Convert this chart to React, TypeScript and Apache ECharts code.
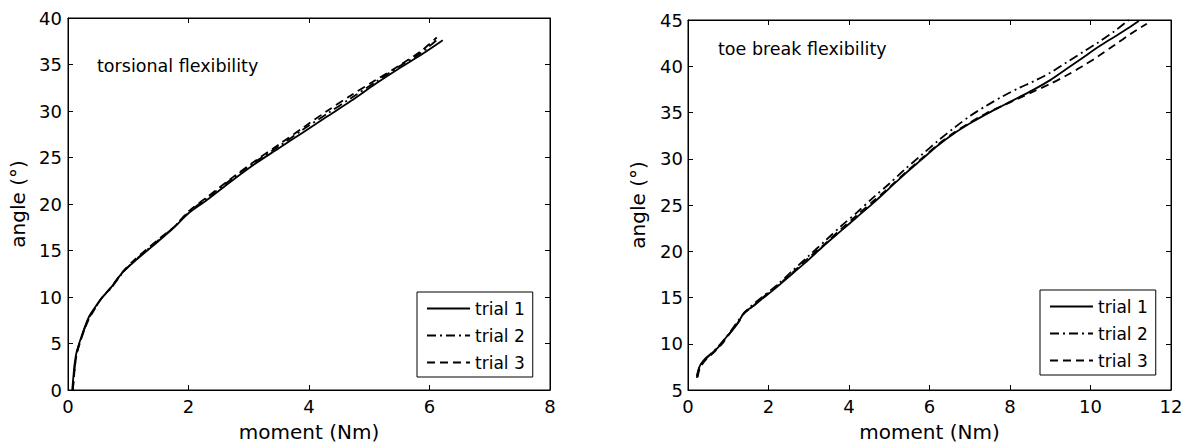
import { useEffect, useRef } from "react";
import * as echarts from "echarts";

const trialNames = ["trial 1", "trial 2", "trial 3"];

// torsional flexibility (left panel)
const torsionMoment1 = [0.07, 0.09, 0.11, 0.14, 0.2, 0.27, 0.35, 0.45, 0.55, 0.7, 0.9, 1.1, 1.3, 1.5, 1.75, 2.0, 2.3, 2.7, 3.1, 3.5, 3.9, 4.3, 4.7, 5.1, 5.5, 5.9, 6.22];
const torsionAngle1 = [0, 1.5, 2.8, 4.0, 5.3, 6.6, 7.9, 8.9, 9.8, 10.9, 12.6, 13.8, 14.9, 16.0, 17.4, 19.0, 20.4, 22.4, 24.3, 26.0, 27.7, 29.4, 31.1, 32.9, 34.6, 36.2, 37.6];
const torsionMoment2 = [0.08, 0.1, 0.12, 0.15, 0.21, 0.28, 0.36, 0.46, 0.56, 0.72, 0.92, 1.12, 1.32, 1.52, 1.77, 2.0, 2.3, 2.7, 3.1, 3.5, 3.9, 4.3, 4.7, 5.1, 5.5, 5.85, 6.15];
const torsionAngle2 = [0, 1.6, 2.9, 4.1, 5.4, 6.7, 7.9, 8.9, 9.9, 11.0, 12.7, 14.0, 15.1, 16.2, 17.6, 19.1, 20.6, 22.6, 24.5, 26.2, 28.0, 29.7, 31.4, 33.1, 34.8, 36.2, 37.8];
const torsionMoment3 = [0.08, 0.1, 0.12, 0.15, 0.21, 0.28, 0.36, 0.46, 0.56, 0.72, 0.92, 1.12, 1.32, 1.52, 1.77, 2.0, 2.3, 2.7, 3.1, 3.5, 3.9, 4.3, 4.7, 5.1, 5.5, 5.85, 6.12];
const torsionAngle3 = [0, 1.5, 2.8, 4.0, 5.3, 6.6, 7.8, 8.9, 9.9, 11.1, 12.8, 14.1, 15.2, 16.3, 17.6, 19.2, 20.7, 22.7, 24.6, 26.4, 28.2, 30.0, 31.7, 33.3, 34.9, 36.4, 37.9];

// toe break flexibility (right panel)
const toeMoment1 = [0.22, 0.26, 0.32, 0.45, 0.6, 0.75, 0.95, 1.15, 1.3, 1.4, 1.6, 1.8, 2.2, 2.6, 3.0, 3.4, 3.8, 4.2, 4.6, 5.0, 5.4, 5.8, 6.2, 6.6, 7.0, 7.4, 7.8, 8.2, 8.6, 9.0, 9.4, 9.8, 10.2, 10.6, 11.0, 11.2];
const toeAngle1 = [6.3, 7.2, 7.8, 8.5, 9.0, 9.6, 10.7, 11.7, 12.7, 13.4, 14.0, 14.7, 16.1, 17.6, 19.1, 20.7, 22.2, 23.7, 25.2, 26.8, 28.4, 29.9, 31.4, 32.7, 33.8, 34.8, 35.7, 36.6, 37.5, 38.5, 39.7, 40.9, 42.1, 43.2, 44.3, 44.9];
const toeMoment2 = [0.22, 0.3, 0.5, 0.75, 1.0, 1.3, 1.5, 1.8, 2.2, 2.6, 3.0, 3.4, 3.8, 4.2, 4.6, 5.0, 5.4, 5.8, 6.2, 6.6, 7.0, 7.4, 7.8, 8.2, 8.6, 9.0, 9.4, 9.8, 10.2, 10.6, 10.95];
const toeAngle2 = [6.5, 7.6, 8.6, 9.7, 11.0, 12.8, 13.8, 14.9, 16.3, 17.9, 19.5, 21.1, 22.7, 24.2, 25.8, 27.3, 28.9, 30.4, 31.9, 33.3, 34.6, 35.7, 36.7, 37.6, 38.4, 39.3, 40.4, 41.5, 42.6, 43.8, 45.0];
const toeMoment3 = [0.24, 0.3, 0.45, 0.65, 0.85, 1.05, 1.25, 1.4, 1.6, 1.8, 2.2, 2.6, 3.0, 3.4, 3.8, 4.2, 4.6, 5.0, 5.4, 5.8, 6.2, 6.6, 7.0, 7.4, 7.8, 8.2, 8.6, 9.0, 9.4, 9.8, 10.2, 10.6, 11.0, 11.4];
const toeAngle3 = [6.4, 7.4, 8.3, 9.1, 10.0, 11.2, 12.3, 13.3, 14.0, 14.8, 16.2, 17.7, 19.3, 20.8, 22.4, 23.9, 25.4, 26.9, 28.5, 30.0, 31.5, 32.8, 33.9, 34.9, 35.7, 36.5, 37.3, 38.1, 39.0, 40.0, 41.1, 42.3, 43.5, 44.6];

const torsionXTicks = { min: 0, max: 8, interval: 2 };
const torsionYTicks = { min: 0, max: 40, interval: 5 };
const toeXTicks = { min: 0, max: 12, interval: 2 };
const toeYTicks = { min: 5, max: 45, interval: 5 };

const FONT = "DejaVu Sans";
const AXIS_COLOR = "#000";
const TICK_LEN = 5;
const dashTypes: any[] = ["solid", [9, 4, 2, 4], [8, 5]];

function zip(xs: number[], ys: number[]) {
  return xs.map((x, i) => [x, ys[i]]);
}

type PanelProps = {
  width: number;
  grid: { left: number; top: number; width: number; height: number };
  xt: { min: number; max: number; interval: number };
  yt: { min: number; max: number; interval: number };
  yLabelMargin: number;
  data: number[][][];
  note: string;
  noteLeft: number;
  noteTop: number;
  legendLeft: number;
  legendTop: number;
};

function Panel(p: PanelProps) {
  const ref = useRef<HTMLDivElement>(null);

  useEffect(() => {
    const chart = echarts.init(ref.current!, undefined, { renderer: "svg" });
    chart.setOption({
      animation: false,
      grid: {
        left: p.grid.left,
        top: p.grid.top,
        width: p.grid.width,
        height: p.grid.height,
        show: true,
        borderColor: AXIS_COLOR,
        borderWidth: 1,
        backgroundColor: "rgba(0,0,0,0)",
      },
      xAxis: [
        {
          type: "value",
          gridIndex: 0,
          min: p.xt.min,
          max: p.xt.max,
          interval: p.xt.interval,
          position: "bottom",
          name: "moment (Nm)",
          nameLocation: "middle",
          nameGap: 32,
          nameTextStyle: { fontFamily: FONT, fontSize: 20, color: "#000" },
          axisLine: { show: true, lineStyle: { color: AXIS_COLOR } },
          axisTick: { show: true, inside: true, length: TICK_LEN, lineStyle: { color: AXIS_COLOR } },
          axisLabel: { fontFamily: FONT, fontSize: 18, color: "#000", margin: 7 },
          splitLine: { show: false },
        },
        {
          type: "value",
          gridIndex: 0,
          min: p.xt.min,
          max: p.xt.max,
          interval: p.xt.interval,
          position: "top",
          axisLine: { show: true, onZero: false, lineStyle: { color: AXIS_COLOR } },
          axisTick: { show: true, inside: true, length: TICK_LEN, lineStyle: { color: AXIS_COLOR } },
          axisLabel: { show: false },
          splitLine: { show: false },
        },
      ],
      yAxis: [
        {
          type: "value",
          gridIndex: 0,
          min: p.yt.min,
          max: p.yt.max,
          interval: p.yt.interval,
          position: "left",
          name: "angle (°)",
          nameLocation: "middle",
          nameGap: 40,
          nameRotate: 90,
          nameTextStyle: { fontFamily: FONT, fontSize: 20, color: "#000" },
          axisLine: { show: true, lineStyle: { color: AXIS_COLOR } },
          axisTick: { show: true, inside: true, length: TICK_LEN, lineStyle: { color: AXIS_COLOR } },
          axisLabel: { fontFamily: FONT, fontSize: 18, color: "#000", margin: p.yLabelMargin },
          splitLine: { show: false },
        },
        {
          type: "value",
          gridIndex: 0,
          min: p.yt.min,
          max: p.yt.max,
          interval: p.yt.interval,
          position: "right",
          axisLine: { show: true, onZero: false, lineStyle: { color: AXIS_COLOR } },
          axisTick: { show: true, inside: true, length: TICK_LEN, lineStyle: { color: AXIS_COLOR } },
          axisLabel: { show: false },
          splitLine: { show: false },
        },
      ],
      legend: {
        orient: "vertical",
        left: p.legendLeft,
        top: p.legendTop,
        data: trialNames,
        itemWidth: 43,
        itemHeight: 14,
        itemGap: 10,
        padding: [8, 8, 6, 9],
        borderColor: AXIS_COLOR,
        borderWidth: 1,
        selectedMode: false,
        itemStyle: { opacity: 0 },
        textStyle: { fontFamily: FONT, fontSize: 17, color: "#000" },
      },
      graphic: [
        {
          type: "text",
          left: p.noteLeft,
          top: p.noteTop,
          style: { text: p.note, font: `17.5px "${FONT}"`, fill: "#000" },
        },
      ],
      series: p.data.map((d, i) => ({
        type: "line",
        name: trialNames[i],
        xAxisIndex: 0,
        yAxisIndex: 0,
        data: d,
        showSymbol: false,
        symbol: "none",
        smooth: 0.3,
        lineStyle: { color: "#000", width: 1.8, type: dashTypes[i] },
        itemStyle: { color: "#000" },
      })),
    });
    return () => chart.dispose();
  }, []);

  return <div ref={ref} style={{ width: p.width, height: 447, flex: "none" }} />;
}

export default function App() {
  useEffect(() => {
    document.body.style.margin = "0";
  }, []);

  const torsionData = [
    zip(torsionMoment1, torsionAngle1),
    zip(torsionMoment2, torsionAngle2),
    zip(torsionMoment3, torsionAngle3),
  ];
  const toeData = [
    zip(toeMoment1, toeAngle1),
    zip(toeMoment2, toeAngle2),
    zip(toeMoment3, toeAngle3),
  ];

  return (
    <div style={{ display: "flex", width: 1186, height: 447, background: "#fff" }}>
      <Panel
        width={593}
        grid={{ left: 68, top: 18, width: 482, height: 375 }}
        xt={torsionXTicks}
        yt={torsionYTicks}
        yLabelMargin={6}
        data={torsionData}
        note="torsional flexibility"
        noteLeft={97}
        noteTop={57}
        legendLeft={417}
        legendTop={292}
      />
      <Panel
        width={593}
        grid={{ left: 95, top: 20, width: 483, height: 373 }}
        xt={toeXTicks}
        yt={toeYTicks}
        yLabelMargin={5}
        data={toeData}
        note="toe break flexibility"
        noteLeft={125}
        noteTop={40}
        legendLeft={447}
        legendTop={290}
      />
    </div>
  );
}
